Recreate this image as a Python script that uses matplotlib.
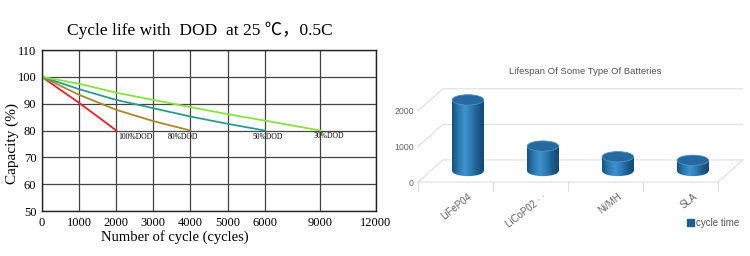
import numpy as np
import matplotlib.pyplot as plt
from matplotlib.patches import Ellipse, Rectangle, Patch
from matplotlib.colors import LinearSegmentedColormap

# left chart data: capacity (%) vs cycles for each DOD
cyc_100 = [0, 500, 1000, 1500, 2000]
cap_100 = [100, 95.1, 90.3, 85.2, 80]
cyc_80 = [0, 1000, 2000, 3000, 4000]
cap_80 = [100, 93.3, 87.7, 83.5, 80]
cyc_50 = [0, 1000, 2000, 3000, 4000, 5000, 6000]
cap_50 = [100, 95.4, 91.4, 88.3, 85.2, 82.5, 80]
cyc_30 = [0, 1000, 2000, 3000, 4000, 5000, 6000, 9000]
cap_30 = [100, 97.4, 94.1, 91.4, 88.7, 86.1, 83.7, 80]
dod_names = ['100%DOD', '80%DOD', '50%DOD', '30%DOD']
dod_colors = ['#e52228', '#a88a2c', '#2b9c8c', '#86e23c']
xticks_left = [0, 1000, 2000, 3000, 4000, 5000, 6000, 9000, 12000]
yticks_left = [50, 60, 70, 80, 90, 100, 110]

# right chart data
batteries = ['LiFeP04', 'LiCoP02 · ·', 'Ni/MH', 'SLA']
cycle_time = [2000, 700, 400, 300]


def fwd(x):
    x = np.asarray(x, float)
    return np.where(x <= 6000, x / 1000, 6 + (x - 6000) / 2000)


def inv(u):
    u = np.asarray(u, float)
    return np.where(u <= 6, u * 1000, 6000 + (u - 6) * 2000)


fig = plt.figure(figsize=(7.5, 2.56), dpi=100)
serif = ['Liberation Serif', 'DejaVu Serif']

# ---------------- left chart
ax = fig.add_axes([42/750, 45/256, 334/750, 161/256])
ax.set_xscale('function', functions=(fwd, inv))
ax.set_xlim(0, 12000)
ax.set_ylim(50, 110)
ax.set_xticks(xticks_left)
ax.set_yticks(yticks_left)
ax.grid(True, color='#444444', lw=0.9)
ax.tick_params(length=0, pad=4, labelsize=9)
for lb in ax.get_xticklabels() + ax.get_yticklabels():
    lb.set_family(serif)
for s in ax.spines.values():
    s.set_color('#222222')
    s.set_linewidth(1)

series = [(cyc_100, cap_100), (cyc_80, cap_80), (cyc_50, cap_50), (cyc_30, cap_30)]
for (xs, ys), c in zip(series, dod_colors):
    ax.plot(xs, ys, color=c, lw=1.3)

lab_x = [2050, 3400, 5680, 8640]
lab_y = [77.4, 77.4, 77.6, 78.1]
for n, x, y in zip(dod_names, lab_x, lab_y):
    ax.text(x, y, n, fontsize=5.5, family=serif, va='center', ha='left')

ax.set_ylabel('Capacity (%)', family=serif, fontsize=11)
ax.yaxis.set_label_coords(-0.07, 0.42)
ax.set_xlabel('Number of cycle (cycles)', family=serif, fontsize=10.5)
ax.xaxis.set_label_coords(0.398, -0.12)
fig.text(200/750, 1 - 30/256, 'Cycle life with  DOD  at 25 ℃，0.5C',
         family=['Liberation Serif', 'Noto Sans CJK SC'], fontsize=12.5,
         ha='center', va='center')

# ---------------- right chart (pseudo 3D cylinders)
bx = fig.add_axes([418/750, 74/256, 326/750, 96/256])
bx.set_xlim(-0.5, 3.85)
bx.set_ylim(0, 2700)
for s in bx.spines.values():
    s.set_visible(False)
dx, dy = 1/3, 620
grid_c = '#dedede'
for lv in [0, 1000, 2000]:
    bx.plot([-0.5, -0.5 + dx, 3.5 + dx], [lv, lv + dy, lv + dy],
            color=grid_c, lw=0.8, clip_on=False, zorder=1)
bx.plot([-0.5, 3.5, 3.5 + dx], [0, 0, dy], color=grid_c, lw=0.8,
        clip_on=False, zorder=1)
for k in range(5):
    bx.plot([k - 0.5, k - 0.5], [0, -250], color=grid_c, lw=0.8,
            clip_on=False, zorder=1)

cmap = LinearSegmentedColormap.from_list(
    'cyl', ['#14527f', '#2c78b0', '#3f93cc', '#2f7bb4', '#1a5d8e', '#134a75'])
grad = np.linspace(0, 1, 64).reshape(1, -1)
w = 0.42
eh = 290
for i, v in enumerate(cycle_time):
    cx = i + dx / 2
    base = dy / 2
    top = base + v
    x0, x1 = cx - w / 2, cx + w / 2
    body = Rectangle((x0, base), w, v, facecolor='none', edgecolor='none')
    bot = Ellipse((cx, base), w, eh, facecolor='none', edgecolor='none')
    bx.add_patch(body)
    bx.add_patch(bot)
    for clip in (body, bot):
        im = bx.imshow(grad, cmap=cmap, extent=(x0, x1, base - eh, top),
                       aspect='auto', zorder=2)
        im.set_clip_path(clip)
    bx.add_patch(Ellipse((cx, top), w, eh, facecolor='#2569a0',
                         edgecolor='#4a92c6', lw=0.6, zorder=3))
bx.set_xlim(-0.5, 3.85)
bx.set_ylim(0, 2700)
bx.set_yticks([0, 1000, 2000])
bx.set_xticks([i + dx / 2 for i in range(len(batteries))])
bx.set_xticklabels(batteries, rotation=38, ha='right', va='top',
                   rotation_mode='anchor')
bx.tick_params(length=0, labelsize=6.3, labelcolor='#666666', pad=3)
bx.tick_params(axis='x', labelsize=7, pad=7)
for lb in bx.get_xticklabels() + bx.get_yticklabels():
    lb.set_family('Liberation Sans')

fig.text(585/750, 1 - 72/256, 'Lifespan Of Some Type Of Batteries',
         family='Liberation Sans', fontsize=6.8, color='#555555',
         ha='center', va='center')
fig.legend(handles=[Patch(color='#1f5f8f', label='cycle time')],
           loc='center left', bbox_to_anchor=(682/750, 1 - 223/256),
           frameon=False, fontsize=7, handlelength=0.7, handleheight=0.7,
           handletextpad=0.2, borderpad=0, labelcolor='#555555',
           prop={'family': 'Liberation Sans', 'size': 7})

fig.savefig('out.png', dpi=100)
